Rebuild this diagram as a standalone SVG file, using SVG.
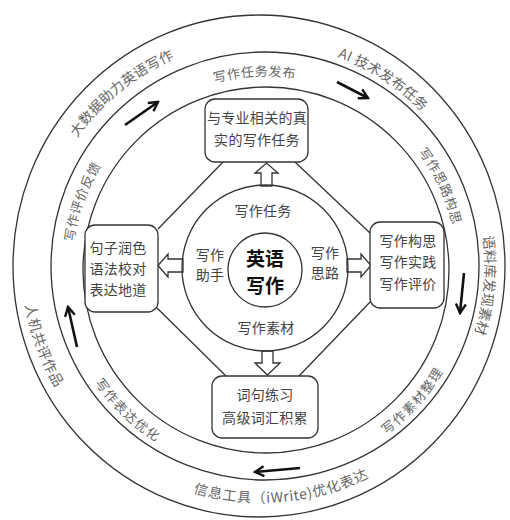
<svg xmlns="http://www.w3.org/2000/svg" width="510" height="520" viewBox="0 0 510 520">
<style>
.ln{fill:none;stroke:#333;stroke-width:1.3}
.box{fill:#fff;stroke:#333;stroke-width:1.3}
.blk{fill:#fff;stroke:#333;stroke-width:1.3}
.t{font-family:"Noto Sans CJK SC","Noto Sans",sans-serif;fill:#444;font-size:14px;text-anchor:middle;dominant-baseline:central;letter-spacing:0.3px}
.rt{font-family:"Noto Sans CJK SC","Noto Sans",sans-serif;fill:#666;font-size:13px;text-anchor:middle;dominant-baseline:central;letter-spacing:1px}
.ot{font-family:"Noto Sans CJK SC","Noto Sans",sans-serif;fill:#666;font-size:14px;text-anchor:middle;dominant-baseline:central;letter-spacing:0.5px}
.c{font-family:"Noto Sans CJK SC","Noto Sans",sans-serif;fill:#111;font-size:19px;font-weight:bold;text-anchor:middle;dominant-baseline:central}
.arr{fill:none;stroke:#111;stroke-width:2.6;marker-end:url(#ah)}
</style>
<defs>
<marker id="ah" viewBox="0 0 12 12" refX="10" refY="6" markerWidth="12" markerHeight="12" markerUnits="userSpaceOnUse" orient="auto">
<path d="M1,1 L10,6 L1,11" fill="none" stroke="#111" stroke-width="2.4"/>
</marker>
<path id="p1" d="M68.5,243.9 A198,198 0 0 1 457.9,223.5"/>
<path id="p2" d="M213.8,76.7 A198,198 0 0 1 378.6,430.2"/>
<path id="p3" d="M159,437.6 A200,200 0 0 0 422.6,144.9"/>
<path id="p4" d="M100,156.7 A199,199 0 0 0 382,429"/>
<path id="p5" d="M165.5,440.3 A199,199 0 0 1 299.5,72"/>
<path id="p6" d="M60,378 A231,231 0 0 1 413.6,91.7"/>
<path id="p7" d="M95.2,110.5 A228,228 0 0 1 471.9,355.1"/>
<path id="p8" d="M321.3,44.8 A229,229 0 0 1 282,494.1"/>
<path id="p9" d="M38.9,325.8 A231,231 0 0 0 492.1,286.1"/>
<path id="p10" d="M145,63.4 A234,234 0 0 0 302.6,496.4"/>
</defs>
<rect width="510" height="520" fill="#fff"/>

<g id="rings">
<ellipse class="ln" cx="259" cy="266" rx="246" ry="251"/>
<circle class="ln" cx="265" cy="266" r="214"/>
<circle class="ln" cx="266" cy="270" r="183"/>
</g>

<g id="connectors">
<line class="ln" x1="223" y1="162" x2="158" y2="229"/>
<line class="ln" x1="295" y1="162" x2="370" y2="233"/>
<line class="ln" x1="157" y1="308" x2="226" y2="376"/>
<line class="ln" x1="372" y1="300" x2="299" y2="376"/>
<polygon class="blk" points="261,186 261,173 255,173 266.5,163 278,173 272,173 272,186"/>
<polygon class="blk" points="262,351 262,363 255,363 267.5,375 280,363 273,363 273,351"/>
<polygon class="blk" points="183,259 168,259 168,254 158,265.5 168,277 168,272 183,272"/>
<polygon class="blk" points="347,259 361,259 361,254 371,265.5 361,277 361,272 347,272"/>
<line class="arr" x1="125" y1="125" x2="158" y2="102"/>
<line class="arr" x1="337" y1="82" x2="368" y2="98"/>
<line class="arr" x1="464" y1="273" x2="460" y2="313"/>
<line class="arr" x1="300" y1="468" x2="255" y2="472"/>
<line class="arr" x1="77" y1="347" x2="68" y2="307"/>
</g>

<g id="center">
<circle class="ln" cx="265" cy="268" r="83"/>
<circle class="ln" cx="265" cy="270" r="37"/>
<text class="c" x="265" y="257">英语</text>
<text class="c" x="265" y="284">写作</text>
<text class="t" x="263" y="210">写作任务</text>
<text class="t" x="210" y="254">写作</text>
<text class="t" x="210" y="274">助手</text>
<text class="t" x="325" y="252">写作</text>
<text class="t" x="325" y="272">思路</text>
<text class="t" x="266" y="327">写作素材</text>
</g>

<g id="node-top">
<rect class="box" x="205" y="99" width="103" height="63" rx="10"/>
<text class="t" x="257" y="117">与专业相关的真</text>
<text class="t" x="257" y="139">实的写作任务</text>
</g>
<g id="node-left">
<rect class="box" x="85" y="225" width="73" height="87" rx="10"/>
<text class="t" x="118" y="247">句子润色</text>
<text class="t" x="118" y="268">语法校对</text>
<text class="t" x="118" y="289">表达地道</text>
</g>
<g id="node-right">
<rect class="box" x="370" y="222" width="74" height="86" rx="10"/>
<text class="t" x="408" y="240">写作构思</text>
<text class="t" x="408" y="261">写作实践</text>
<text class="t" x="408" y="283">写作评价</text>
</g>
<g id="node-bottom">
<rect class="box" x="212" y="376" width="106" height="62" rx="10"/>
<text class="t" x="265" y="394">词句练习</text>
<text class="t" x="265" y="417">高级词汇积累</text>
</g>

<g id="ring-labels">
<text class="rt"><textPath href="#p1" startOffset="50%">写作任务发布</textPath></text>
<text class="rt"><textPath href="#p2" startOffset="50%">写作思路构思</textPath></text>
<text class="rt"><textPath href="#p3" startOffset="50%">写作素材整理</textPath></text>
<text class="rt"><textPath href="#p4" startOffset="50%">写作表达优化</textPath></text>
<text class="rt"><textPath href="#p5" startOffset="50%">写作评价反馈</textPath></text>
<text class="ot"><textPath href="#p6" startOffset="50%">大数据助力英语写作</textPath></text>
<text class="ot"><textPath href="#p7" startOffset="50%">AI 技术发布任务</textPath></text>
<text class="ot"><textPath href="#p8" startOffset="50%">语料库发现素材</textPath></text>
<text class="ot"><textPath href="#p9" startOffset="50%">信息工具（iWrite)优化表达</textPath></text>
<text class="ot"><textPath href="#p10" startOffset="50%">人机共评作品</textPath></text>
</g>
</svg>
